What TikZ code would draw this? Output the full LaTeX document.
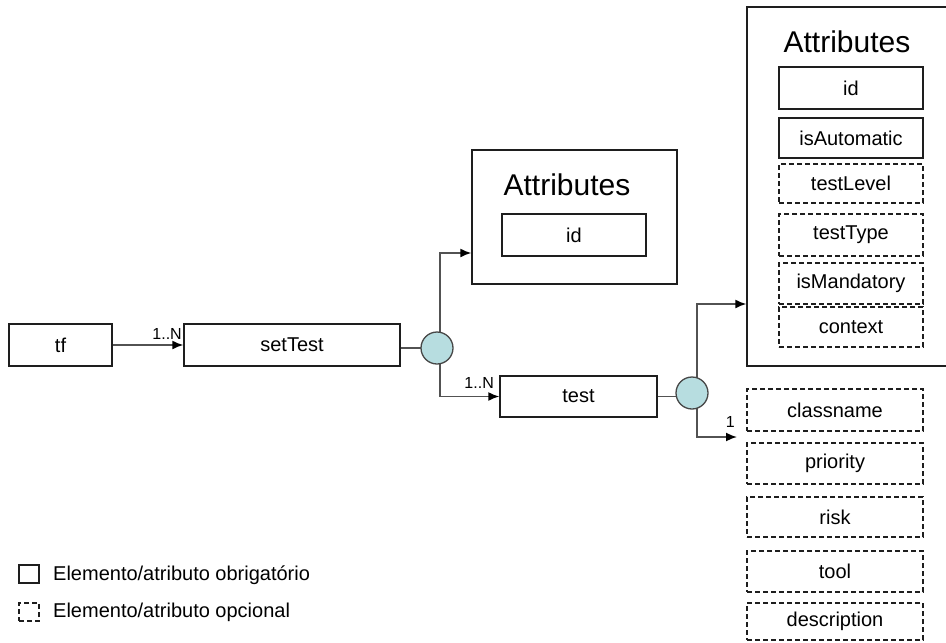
\documentclass[tikz,border=0pt]{standalone}
\usepackage{fontspec}
\setmainfont{Liberation Sans}
\usetikzlibrary{arrows.meta,backgrounds}

\definecolor{boxline}{HTML}{1E1E1E}
\definecolor{wirecol}{HTML}{525252}
\definecolor{joinfill}{HTML}{B7DDE0}
\definecolor{joinline}{HTML}{474747}

\tikzset{
  elembox/.style={draw=boxline, line width=1.3pt, rectangle, inner sep=0pt,
               font=\fontsize{20}{24}\selectfont},
  optbox/.style={elembox, dash pattern=on 5pt off 3pt},
  boxtitle/.style={anchor=base, inner sep=0pt, font=\fontsize{30}{36}\selectfont},
  multlabel/.style={anchor=base east, inner sep=0pt, font=\fontsize{16}{19}\selectfont},
  legendtext/.style={anchor=west, inner sep=0pt, font=\fontsize{20}{24}\selectfont},
  junction/.style={circle, draw=joinline, fill=joinfill, line width=1.3pt,
               minimum size=32pt, inner sep=0pt},
  wireline/.style={draw=wirecol, line width=1.7pt},
  feedline/.style={wireline, -{Latex[length=11pt,width=9pt,color=black]}}
}

\begin{document}
\begin{tikzpicture}[x=1pt, y=-1pt]
  \useasboundingbox (0,0) rectangle (946,643);
  \clip (0,0) rectangle (946,643);

  % main chain
  \node[elembox, minimum width=103pt, minimum height=42pt] (tf) at (60.5,345) {tf};
  \node[elembox, minimum width=216pt, minimum height=42pt] (setTest) at (292,345) {setTest};
  \node[junction] (c1) at (437,348) {};
  \node[elembox, minimum width=157pt, minimum height=41pt] (test) at (578.5,396.5) {test};
  \node[junction] (c2) at (692,393) {};

  % attributes of setTest
  \node[elembox, minimum width=205pt, minimum height=134pt] (attrA) at (574.5,217) {};
  \node[boxtitle] (titleA) at (567,195) {Attributes};
  \node[elembox, minimum width=144pt, minimum height=42pt] (idA) at (574,235) {id};

  % attributes of test
  \node[elembox, minimum width=213pt, minimum height=359pt] (attrB) at (853.5,186.5) {};
  \node[boxtitle] (titleB) at (847,52) {Attributes};
  \node[elembox, minimum width=144pt, minimum height=42pt] (idB) at (851,88) {id};
  \node[elembox, minimum width=144pt, minimum height=40pt] (auto) at (851,138) {isAutomatic};
  \node[optbox, minimum width=144pt, minimum height=39pt] (level) at (851,183.5) {testLevel};
  \node[optbox, minimum width=144pt, minimum height=42pt] (type) at (851,235) {testType};
  \node[optbox, minimum width=144pt, minimum height=41pt] (mand) at (851,283.5) {isMandatory};
  \node[optbox, minimum width=144pt, minimum height=40pt] (ctx) at (851,327) {context};

  % child elements of test
  \node[optbox, minimum width=176pt, minimum height=42pt] (cls) at (835,410) {classname};
  \node[optbox, minimum width=176pt, minimum height=41pt] (prio) at (835,463.5) {priority};
  \node[optbox, minimum width=176pt, minimum height=40pt] (risk) at (835,517) {risk};
  \node[optbox, minimum width=176pt, minimum height=41pt] (tool) at (835,571.5) {tool};
  \node[optbox, minimum width=176pt, minimum height=37pt] (desc) at (835,621.5) {description};
  \coordinate (clsIn) at (737,437);

  % multiplicities
  \node[multlabel] (m1) at (182,339) {1..N};
  \node[multlabel] (m2) at (494,388) {1..N};
  \node[multlabel] (m3) at (735,427) {1};

  % connectors
  \begin{scope}[on background layer]
    \draw[feedline] (tf.east) -- (setTest.west);
    \draw[wireline] ([yshift=-3pt]setTest.east) -- (c1.center);
    \draw[feedline] ([xshift=3pt]c1.center) |- ([yshift=-36pt]attrA.west);
    \draw[feedline] ([xshift=3pt]c1.center) |- (test.west);
    \draw[wireline] (test.east) -- (test.east -| c2.center);
    \draw[feedline] ([xshift=5pt]c2.center) |- ([yshift=-117.5pt]attrB.west);
    \draw[feedline] ([xshift=5pt]c2.center) |- (clsIn);
  \end{scope}

  % legend
  \node[elembox, minimum width=20pt, minimum height=18pt] (keyA) at (29,574) {};
  \node[optbox, minimum width=20pt, minimum height=18pt] (keyB) at (29,612) {};
  \node[legendtext] (txtA) at (53,575) {Elemento/atributo obrigatório};
  \node[legendtext] (txtB) at (53,612) {Elemento/atributo opcional};
\end{tikzpicture}
\end{document}
